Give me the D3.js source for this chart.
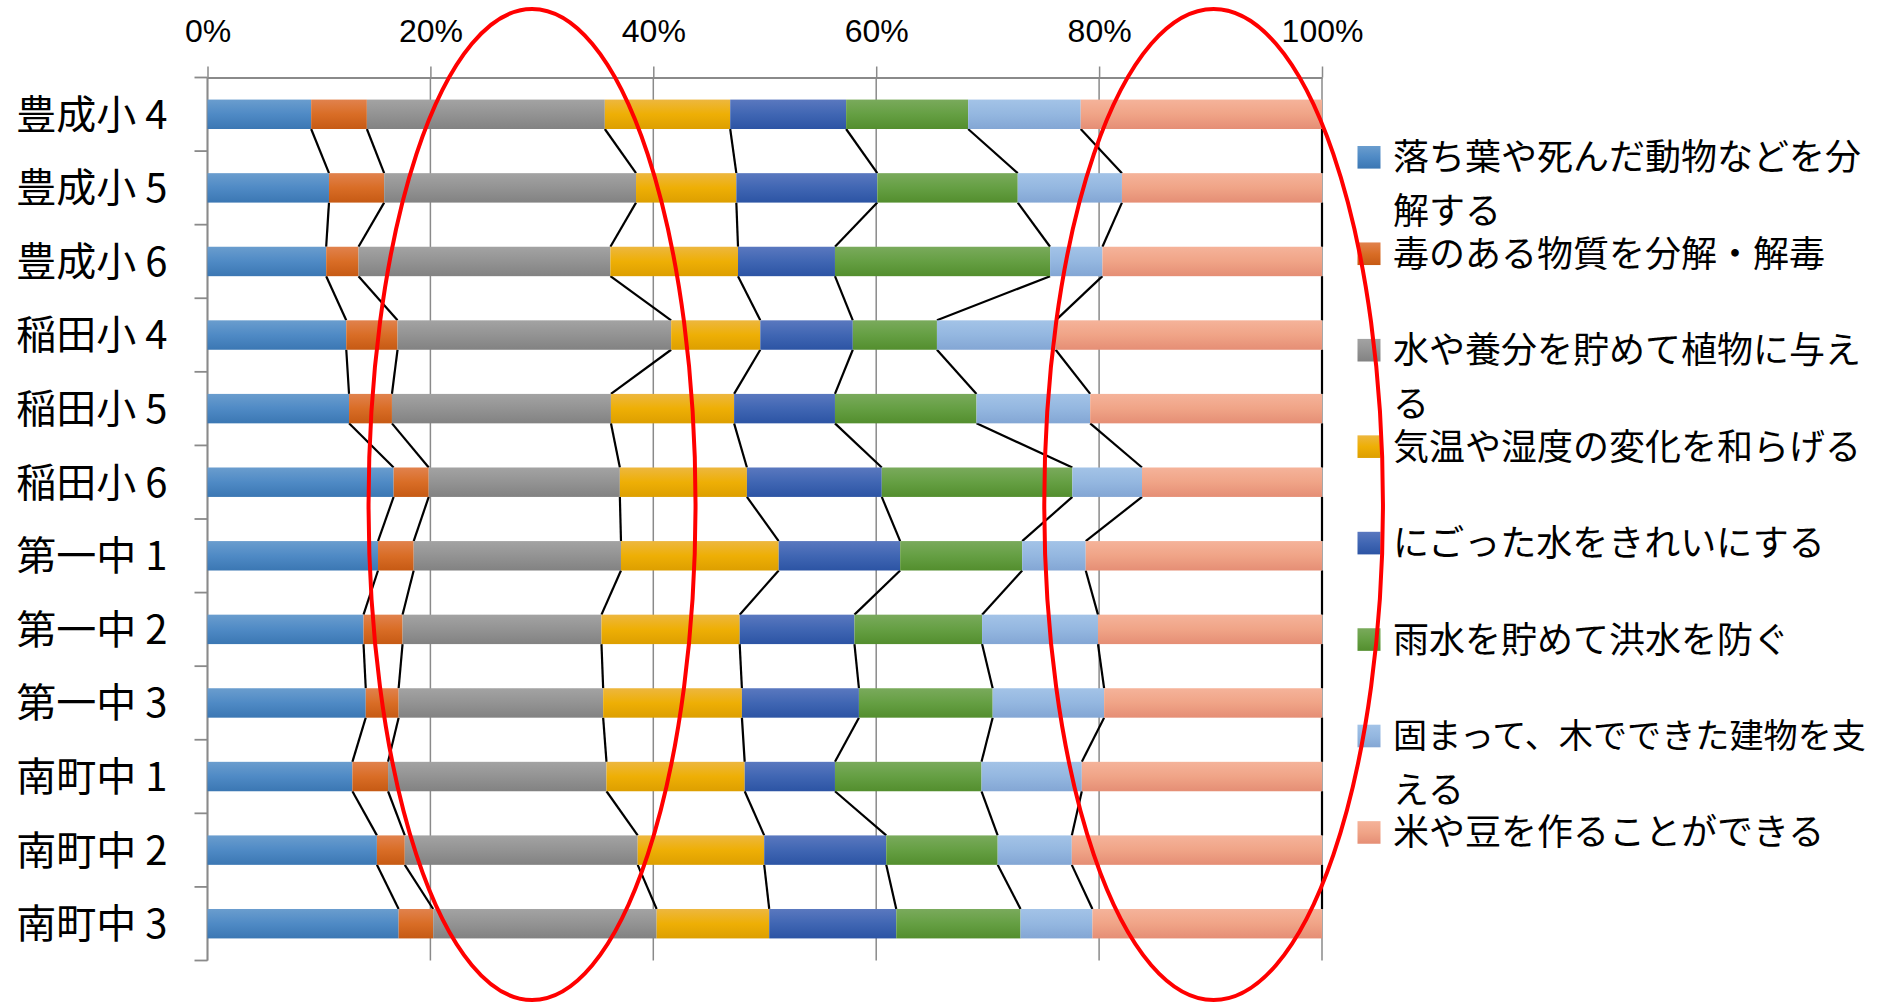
<!DOCTYPE html>
<html><head><meta charset="utf-8">
<script src="https://cdn.jsdelivr.net/npm/d3@7"></script>
<style>html,body{margin:0;padding:0;background:#fff;overflow:hidden}</style>
</head><body>
<svg id="chart" width="1878" height="1005"></svg>
<script>
// ---------------- data ----------------
const categories = ["豊成小 4","豊成小 5","豊成小 6","稲田小 4","稲田小 5","稲田小 6","第一中 1","第一中 2","第一中 3","南町中 1","南町中 2","南町中 3"];
const seriesNames = [
  "落ち葉や死んだ動物などを分解する",
  "毒のある物質を分解・解毒",
  "水や養分を貯めて植物に与える",
  "気温や湿度の変化を和らげる",
  "にごった水をきれいにする",
  "雨水を貯めて洪水を防ぐ",
  "固まって、木でできた建物を支える",
  "米や豆を作ることができる"
];
// where the legend text wraps (character index), null = no wrap
const legendBreaks = [13, null, 13, null, null, null, 14, null];

const decompose   = [9.3, 10.9, 10.65, 12.45, 12.7, 16.7, 15.3, 14.0, 14.2, 13.0, 15.2, 17.15];
const detox       = [5.0, 4.95, 2.9, 4.6, 3.85, 3.15, 3.2, 3.5, 2.95, 3.2, 2.5, 3.1];
const nutrients   = [21.35, 22.6, 22.6, 24.55, 19.65, 17.15, 18.6, 17.85, 18.35, 19.6, 20.9, 20.05];
const climate     = [11.25, 9.0, 11.45, 8.0, 11.05, 11.4, 14.15, 12.4, 12.45, 12.4, 11.35, 10.1];
const purify      = [10.4, 12.65, 8.7, 8.3, 9.05, 12.1, 10.9, 10.3, 10.5, 8.1, 10.95, 11.4];
const floodStore  = [10.95, 12.6, 19.3, 7.55, 12.7, 17.1, 10.95, 11.45, 12.0, 13.15, 10.0, 11.15];
const support     = [10.1, 9.35, 4.7, 10.65, 10.2, 6.25, 5.7, 10.4, 10.0, 9.0, 6.65, 6.45];
const crops       = [21.65, 17.95, 19.7, 23.9, 20.8, 16.15, 21.2, 20.1, 19.55, 21.55, 22.45, 20.6];
const seriesValues = [decompose, detox, nutrients, climate, purify, floodStore, support, crops];

const tickValues = [0, 0.2, 0.4, 0.6, 0.8, 1];
const tickLabels = ["0%", "20%", "40%", "60%", "80%", "100%"];

// annotation ellipses, horizontal extent in value units
const ellipseFrom = [0.1445, 0.7508];
const ellipseTo   = [0.4379, 1.0547];

// ---------------- styles ----------------
const gradTop = ["#6A9DCE","#E1824D","#A3A3A3","#EDB73F","#5A78BF","#7AAA5C","#A3C3E7","#F5B39A"];
const gradMid = ["#4F8AC5","#D96D26","#939393","#EEAF05","#4066B3","#659F43","#94B7E0","#F0A487"];
const gradBot = ["#3B77B3","#C65A14","#828282","#DD9F00","#2C54A4","#538E2E","#83A6D4","#E58E75"];

const W = 1878, H = 1005;
const svg = d3.select("#chart");
const defs = svg.append("defs");
seriesNames.forEach((n, i) => {
  const g = defs.append("linearGradient").attr("id", "g" + i)
    .attr("x1", 0).attr("y1", 0).attr("x2", 0).attr("y2", 1);
  g.append("stop").attr("offset", "0%").attr("stop-color", gradTop[i]);
  g.append("stop").attr("offset", "50%").attr("stop-color", gradMid[i]);
  g.append("stop").attr("offset", "100%").attr("stop-color", gradBot[i]);
});

const rows = categories.map((c, r) => {
  const o = { cat: c };
  seriesNames.forEach((n, i) => { o[n] = seriesValues[i][r]; });
  return o;
});
const stack = d3.stack().keys(seriesNames).offset(d3.stackOffsetExpand);
const layers = stack(rows);

const yTop = 77.5, yBottom = 960.5;
const x = d3.scaleLinear().domain([0, 1]).range([207.5, 1322]);
const y = d3.scaleBand().domain(categories).range([yTop, yBottom])
  .paddingInner(0.6).paddingOuter(0.3);
const step = y.step();
const bw = y.bandwidth();
const gridColor = "#8A8A8A";

// gridlines
svg.append("g").selectAll("line").data(tickValues).join("line")
  .attr("x1", d => x(d)).attr("x2", d => x(d))
  .attr("y1", yTop).attr("y2", yBottom)
  .attr("stroke", gridColor).attr("stroke-width", 1.5);

// top axis
const xAxis = d3.axisTop(x).tickValues(tickValues)
  .tickFormat((d, i) => tickLabels[i]).tickSizeInner(11).tickSizeOuter(0).tickPadding(25);
const gx = svg.append("g").attr("transform", `translate(0,${yTop})`).call(xAxis);
gx.select(".domain").attr("stroke", gridColor).attr("stroke-width", 1.8);
gx.selectAll(".tick line").attr("stroke", gridColor).attr("stroke-width", 1.5);
gx.selectAll(".tick text").attr("fill", "#000")
  .style("font-family", "'Liberation Sans', Arial, sans-serif").style("font-size", "32px");

// left axis line + boundary ticks
const ga = svg.append("g");
ga.append("line").attr("x1", x(0)).attr("x2", x(0)).attr("y1", yTop).attr("y2", yBottom)
  .attr("stroke", gridColor).attr("stroke-width", 1.8);
ga.selectAll("line.tk").data(d3.range(categories.length + 1)).join("line").attr("class", "tk")
  .attr("x1", x(0) - 13).attr("x2", x(0))
  .attr("y1", k => yTop + k * step).attr("y2", k => yTop + k * step)
  .attr("stroke", gridColor).attr("stroke-width", 1.8);

// category labels
const yAxis = d3.axisLeft(y).tickSize(0).tickPadding(40);
const gy = svg.append("g").attr("transform", `translate(${x(0)},0)`).call(yAxis);
gy.select(".domain").remove();
gy.selectAll(".tick text").attr("fill", "#000").attr("dy", "0.36em")
  .style("white-space", "pre")
  .style("font-family", "'Noto Sans CJK JP', sans-serif").style("font-size", "40px");

// series lines
const sl = svg.append("g");
layers.forEach((layer, k) => {
  for (let r = 0; r < categories.length - 1; r++) {
    sl.append("line")
      .attr("x1", x(layer[r][1])).attr("y1", y(categories[r]) + bw)
      .attr("x2", x(layer[r + 1][1])).attr("y2", y(categories[r + 1]))
      .attr("stroke", "#000").attr("stroke-width", 2.2);
  }
});

// bars
svg.append("g").selectAll("g").data(layers).join("g")
  .attr("fill", (d, i) => `url(#g${i})`)
  .selectAll("rect").data(d => d).join("rect")
  .attr("x", d => x(d[0])).attr("width", d => x(d[1]) - x(d[0]))
  .attr("y", d => y(d.data.cat)).attr("height", bw);

// legend
const lg = svg.append("g");
const legX = 1357.5, legTextX = 1393, legY0 = 157.3, legStep = 96.45, lineH = 54;
const legFont = 36;
const maxW = W - legTextX - 12;
seriesNames.forEach((n, i) => {
  const cy = legY0 + i * legStep;
  lg.append("rect").attr("x", legX).attr("y", cy - 11.3).attr("width", 23).attr("height", 22.6)
    .attr("fill", `url(#g${i})`);
  const br = legendBreaks[i];
  const lines = br ? [n.slice(0, br), n.slice(br)] : [n];
  lines.forEach((t, j) => {
    const tx = lg.append("text").attr("x", legTextX).attr("y", cy + j * lineH).attr("dy", "0.36em")
      .attr("fill", "#000")
      .style("font-family", "'Noto Sans CJK JP', sans-serif").style("font-size", legFont + "px")
      .text(t);
    const len = tx.node().getComputedTextLength();
    if (len > maxW) tx.style("font-size", (legFont * maxW / len).toFixed(2) + "px");
  });
});

// annotation ellipses
svg.append("g").selectAll("ellipse").data(ellipseFrom).join("ellipse")
  .attr("cx", (d, i) => (x(d) + x(ellipseTo[i])) / 2)
  .attr("rx", (d, i) => (x(ellipseTo[i]) - x(d)) / 2)
  .attr("cy", 504.5).attr("ry", 495.5)
  .attr("fill", "none").attr("stroke", "#FF0000").attr("stroke-width", 4);
</script>
</body></html>
